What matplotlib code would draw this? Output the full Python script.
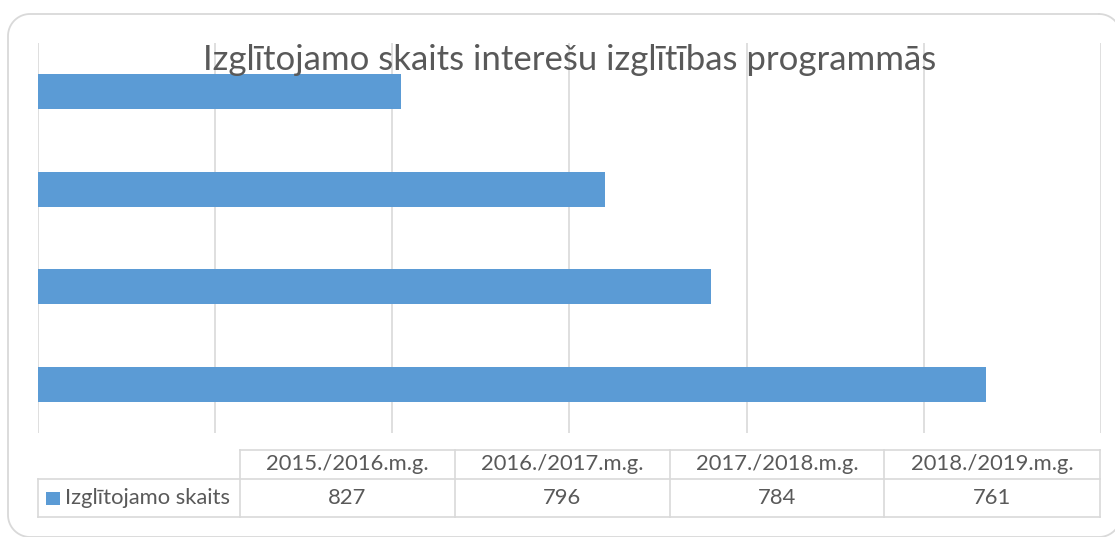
import matplotlib
matplotlib.use("Agg")
import matplotlib.pyplot as plt
import numpy as np
from matplotlib.patches import Rectangle
from matplotlib.lines import Line2D

# ---- data ----
categories = ["2015./2016.m.g.", "2016./2017.m.g.", "2017./2018.m.g.", "2018./2019.m.g."]
values = [827, 796, 784, 761]
series_name = "Izglītojamo skaits"
title = "Izglītojamo skaits interešu izglītības programmās"
x_min, x_max, x_step = 720, 840, 20

# ---- style ----
W, H = 1115, 537
BAR = "#5b9bd5"
GRID = "#d9d9d9"
TXT = "#595959"
FONT = ["Lato", "DejaVu Sans"]
plt.rcParams["font.family"] = FONT
TFS = 15.8

fig = plt.figure(figsize=(W / 100, H / 100), dpi=100)

def fx(x):
    return x / W

def fy(y):
    return 1 - y / H

# rounded chart border, built in pixel coordinates (y down)
def rounded_rect(x0, y0, x1, y1, r, n=20):
    pts = []
    corners = [(x1 - r, y0 + r, -90, 0), (x1 - r, y1 - r, 0, 90),
               (x0 + r, y1 - r, 90, 180), (x0 + r, y0 + r, 180, 270)]
    for cx, cy, a0, a1 in corners:
        t = np.radians(np.linspace(a0, a1, n))
        pts.extend(zip(cx + r * np.cos(t), cy + r * np.sin(t)))
    pts.append(pts[0])
    xs, ys = zip(*pts)
    return np.array(xs), np.array(ys)

bxs, bys = rounded_rect(8, 14, 1121, 537, 22)
fig.add_artist(Line2D(fx(bxs), fy(bys), color=GRID, lw=1.3, zorder=0))

# plot area
left, right, top, bottom = 38, 1101, 43, 433
ax = fig.add_axes([fx(left), fy(bottom), fx(right) - fx(left), fy(top) - fy(bottom)])
ax.set_facecolor("none")
ypos = list(range(len(categories)))
ax.barh(ypos, [v - x_min for v in values], left=x_min, height=0.355, color=BAR, zorder=2)
ax.set_xlim(x_min, x_max)
ax.set_ylim(-0.5, len(categories) - 0.5)
ax.set_xticks(range(x_min, x_max + 1, x_step))
ax.grid(axis="x", color=GRID, linewidth=1.2, zorder=0)
ax.tick_params(left=False, bottom=False, labelleft=False, labelbottom=False)
for s in ax.spines.values():
    s.set_visible(False)

ax.text(0.5, 1 - (60 - top) / (bottom - top), title, transform=ax.transAxes,
        ha="center", va="center", fontsize=25, color=TXT, zorder=5)

# ---- data table ----
col_edges = [38, 240, 455, 670, 884, 1100]
r0, r1, r2 = 450, 479, 517
lw = 1.2
def hline(x0, x1, y):
    fig.add_artist(Line2D([fx(x0), fx(x1)], [fy(y), fy(y)], color=GRID, lw=lw))
def vline(x, y0, y1):
    fig.add_artist(Line2D([fx(x), fx(x)], [fy(y0), fy(y1)], color=GRID, lw=lw))

hline(col_edges[1], col_edges[-1], r0)
hline(col_edges[0], col_edges[-1], r1)
hline(col_edges[0], col_edges[-1], r2)
vline(col_edges[0], r1, r2)
for x in col_edges[1:]:
    vline(x, r0, r2)

for i, (cat, val) in enumerate(zip(categories, values)):
    cx = (col_edges[i + 1] + col_edges[i + 2]) / 2
    fig.text(fx(cx), fy((r0 + r1) / 2), cat, ha="center", va="center", fontsize=TFS, color=TXT)
    fig.text(fx(cx), fy((r1 + r2) / 2), str(val), ha="center", va="center", fontsize=TFS, color=TXT)

fig.add_artist(Rectangle((fx(46), fy(505)), fx(14), fy(492) - fy(505), transform=fig.transFigure,
                         facecolor=BAR, edgecolor="none", zorder=3))
fig.text(fx(65), fy((r1 + r2) / 2), series_name, ha="left", va="center", fontsize=TFS, color=TXT)

fig.savefig("out.png", dpi=100)
